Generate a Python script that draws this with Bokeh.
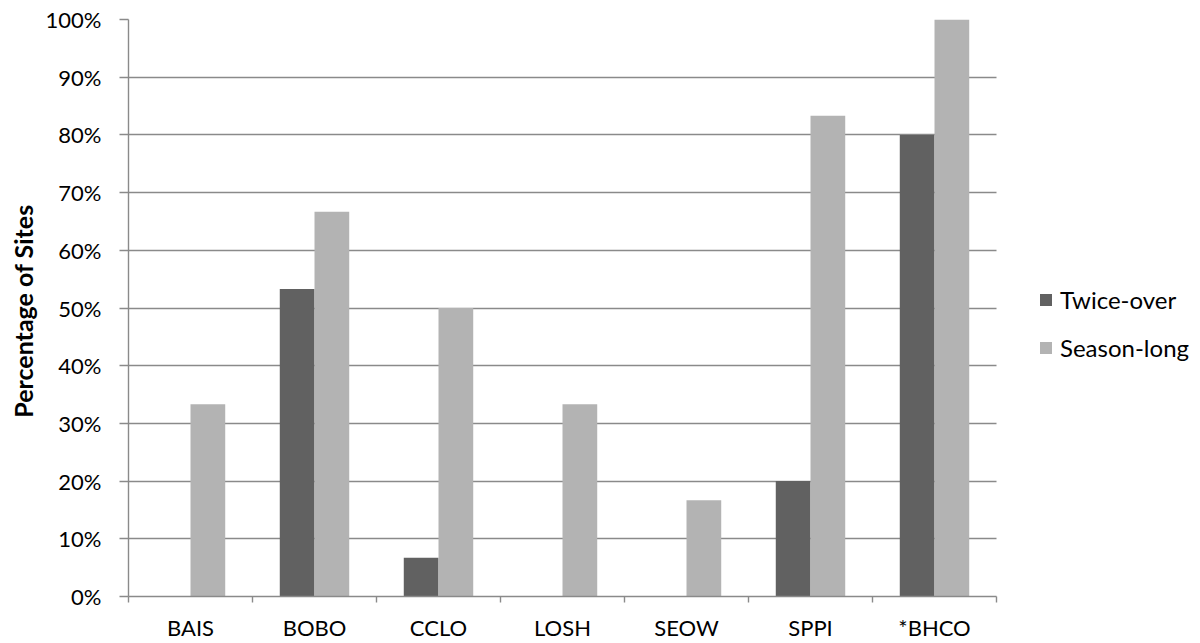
import numpy as np
from bokeh.plotting import figure
from bokeh.models import (ColumnDataSource, FixedTicker, NumeralTickFormatter,
                          Legend, LegendItem, Range1d)
from bokeh.embed import file_html
from bokeh.resources import INLINE

categories = ["BAIS", "BOBO", "CCLO", "LOSH", "SEOW", "SPPI", "*BHCO"]
twice_over = [0.0, 0.533, 0.067, 0.0, 0.0, 0.20, 0.80]
season_long = [0.333, 0.667, 0.50, 0.333, 0.167, 0.833, 1.0]
series_names = ["Twice-over", "Season-long"]
y_ticks = [0.0, 0.1, 0.2, 0.3, 0.4, 0.5, 0.6, 0.7, 0.8, 0.9, 1.0]

DARK = "#616161"
LIGHT = "#b3b3b3"
GRID = "#8a8a8a"
FONT = "Lato"

n = len(categories)
centers = np.arange(n) + 0.5
bw = 0.28

W, H = 1200, 643
LEFT, TOP, BOTTOM = 128, 19, 44
plot_w = 868                      # width of the category area
frame_w = W - LEFT                # frame extends to the right edge (legend space)
x_end = n * frame_w / plot_w

src = ColumnDataSource(dict(
    cat=categories,
    xd=centers - bw / 2,
    xl=centers + bw / 2,
    twice=twice_over,
    season=season_long,
))

p = figure(width=W, height=H, output_backend="svg", toolbar_location=None,
           x_range=Range1d(0, x_end), y_range=Range1d(0, 1),
           min_border_left=LEFT, min_border_right=0, min_border_top=TOP,
           min_border_bottom=BOTTOM)
p.outline_line_color = None
p.background_fill_color = "white"
p.border_fill_color = "white"

r1 = p.vbar(x="xd", top="twice", width=bw, source=src, fill_color=DARK, line_color=None)
r2 = p.vbar(x="xl", top="season", width=bw, source=src, fill_color=LIGHT, line_color=None)

# y axis
ya = p.yaxis[0]
ya.ticker = FixedTicker(ticks=y_ticks)
ya.formatter = NumeralTickFormatter(format="0%")
ya.major_tick_out = 9
ya.major_tick_in = 0
ya.minor_tick_line_color = None
ya.axis_line_color = GRID
ya.axis_line_width = 1.4
ya.major_tick_line_color = GRID
ya.major_tick_line_width = 1.4
ya.major_label_text_font = FONT
ya.major_label_text_font_size = "22px"
ya.major_label_text_color = "black"
ya.major_label_standoff = 18
ya.axis_label = "Percentage  of Sites"
ya.axis_label_text_font = FONT
ya.axis_label_text_font_style = "bold"
ya.axis_label_text_font_size = "25px"
ya.axis_label_text_color = "black"
ya.axis_label_standoff = 5

# x axis
xa = p.xaxis[0]
xa.bounds = (0, n)
xa.ticker = FixedTicker(ticks=list(centers), minor_ticks=list(range(n + 1)))
xa.major_label_overrides = {float(c): lab for c, lab in zip(centers, categories)}
xa.major_tick_out = 0
xa.major_tick_in = 0
xa.minor_tick_out = 6
xa.minor_tick_in = 0
xa.minor_tick_line_color = GRID
xa.minor_tick_line_width = 1.4
xa.axis_line_color = GRID
xa.axis_line_width = 1.4
xa.major_label_text_font = FONT
xa.major_label_text_font_size = "22px"
xa.major_label_text_color = "black"
xa.major_label_standoff = 11

p.xgrid.grid_line_color = None
p.ygrid.ticker = FixedTicker(ticks=y_ticks)
p.ygrid.cross_bounds = (0, n)
p.ygrid.grid_line_color = GRID
p.ygrid.grid_line_width = 1.4

legend = Legend(items=[LegendItem(label=series_names[0], renderers=[r1]),
                       LegendItem(label=series_names[1], renderers=[r2])],
                location=(910, 234))
legend.border_line_color = None
legend.background_fill_alpha = 0
legend.padding = 0
legend.margin = 0
legend.glyph_width = 15
legend.glyph_height = 15
legend.label_height = 15
legend.spacing = 19
legend.label_standoff = 7
legend.label_text_font = FONT
legend.label_text_font_size = "24px"
legend.label_text_color = "black"
p.add_layout(legend, "center")

open("out.html", "w").write(file_html(p, INLINE))
